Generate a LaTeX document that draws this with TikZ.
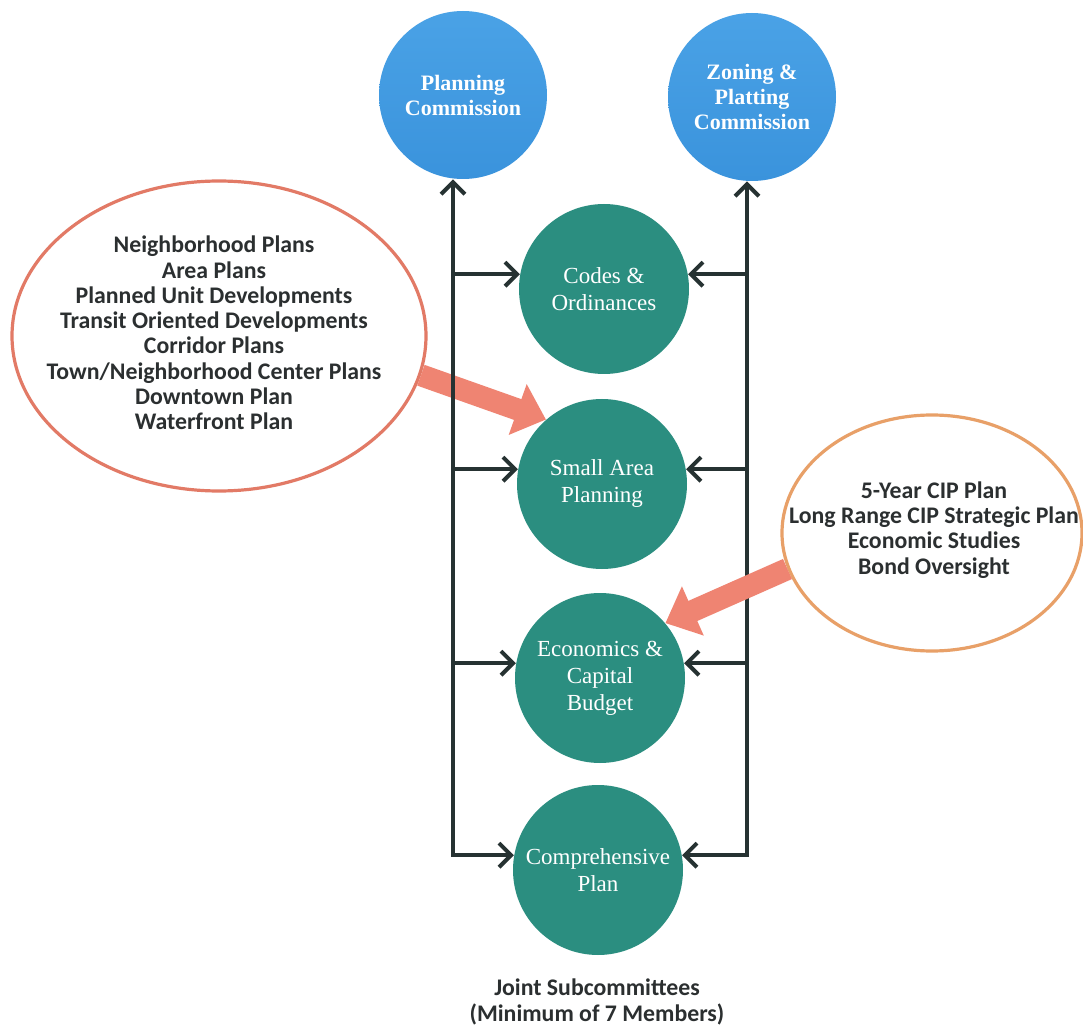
\documentclass[tikz,border=0pt]{standalone}
\usepackage{fontspec}
\setmainfont{Liberation Serif}
\newfontfamily\ellfont{Carlito}
\usetikzlibrary{arrows.meta,shapes.geometric}
\definecolor{bluec}{HTML}{3A93DC}
\definecolor{bluetop}{HTML}{4AA2E6}
\definecolor{greenc}{HTML}{2B8E80}
\definecolor{linec}{HTML}{263232}
\definecolor{ellred}{HTML}{E27A66}
\definecolor{ellorange}{HTML}{E8A068}
\definecolor{orangea}{HTML}{EF8472}
\definecolor{txtc}{HTML}{2B2F30}
\begin{document}
\begin{tikzpicture}[x=0.5pt,y=-0.5pt,
  cbarb/.tip={Straight Barb[length=6pt,width=12pt]},
  bluecirc/.style={circle, minimum size=84pt, inner sep=0pt, top color=bluetop, bottom color=bluec, text=white, align=center, font=\bfseries\fontsize{11}{12.5}\selectfont},
  greencirc/.style={circle, minimum size=85pt, inner sep=0pt, fill=greenc, text=white, align=center, font=\fontsize{11.5}{13.5}\selectfont},
  conn/.style={draw=linec, line width=2pt},
  ellshape/.style={ellipse, fill=white, line width=1.6pt, inner sep=0pt},
  elltext/.style={align=center, text=txtc, inner sep=0pt, font=\ellfont\bfseries\fontsize{11.9}{12.65}\selectfont},
  bigarrow/.style={draw=orangea, line width=11pt, -{Triangle[length=15pt,width=26pt]}}
]
\fill[white] (0,0) rectangle (1083,1027);
\useasboundingbox (0,0) rectangle (1083,1027);

% commissions
\node[bluecirc] (P) at (463,95) {Planning\\Commission};
\node[bluecirc] (Z) at (752,97) {Zoning \&\\Platting\\Commission};

% subcommittees
\node[greencirc] (C1) at (604,289) {Codes \&\\Ordinances};
\node[greencirc] (C2) at (602,484) {Small Area\\Planning};
\node[greencirc] (C3) at (600,678) {Economics \&\\Capital\\Budget};
\node[greencirc] (C4) at (598,870) {Comprehensive\\Plan};

% ellipses
\node[ellshape, draw=ellred, minimum width=207pt, minimum height=155pt] (E1) at (219,336) {};
\node[elltext] (T1) at (214,333)
  {Neighborhood Plans\\Area Plans\\Planned Unit Developments\\Transit Oriented Developments\\Corridor Plans\\Town/Neighborhood Center Plans\\Downtown Plan\\Waterfront Plan};
\node[ellshape, draw=ellorange, minimum width=150pt, minimum height=118pt] (E2) at (932,533) {};
\node[elltext] (T2) at (934,530)
  {5-Year CIP Plan\\Long Range CIP Strategic Plan\\Economic Studies\\Bond Oversight};

\coordinate (Lx) at (453,0);
\coordinate (Rx) at (747,0);

% left orange arrow (under the trunk)
\draw[bigarrow] (E1.-11) -- (C2.131);

% left trunk
\draw[conn, {cbarb}-{cbarb}] (Lx |- P.south) -- (Lx |- C4.170) -- (C4.170);
\draw[conn, -{cbarb}] (Lx |- C1.170) -- (C1.170);
\draw[conn, -{cbarb}] (Lx |- C2.170) -- (C2.170);
\draw[conn, -{cbarb}] (Lx |- C3.170) -- (C3.170);

% right trunk
\draw[conn, {cbarb}-{cbarb}] (Rx |- Z.south) -- (Rx |- C4.10) -- (C4.10);
\draw[conn, -{cbarb}] (Rx |- C1.10) -- (C1.10);
\draw[conn, -{cbarb}] (Rx |- C2.10) -- (C2.10);
\draw[conn, -{cbarb}] (Rx |- C3.10) -- (C3.10);

% right orange arrow (over the trunk)
\draw[bigarrow] (E2.194) -- (C3.40);

% caption
\node[align=center, text=txtc, font=\ellfont\bfseries\fontsize{11.9}{12.6}\selectfont] (J) at (597,1002)
  {Joint Subcommittees\\(Minimum of 7 Members)};
\end{tikzpicture}
\end{document}
